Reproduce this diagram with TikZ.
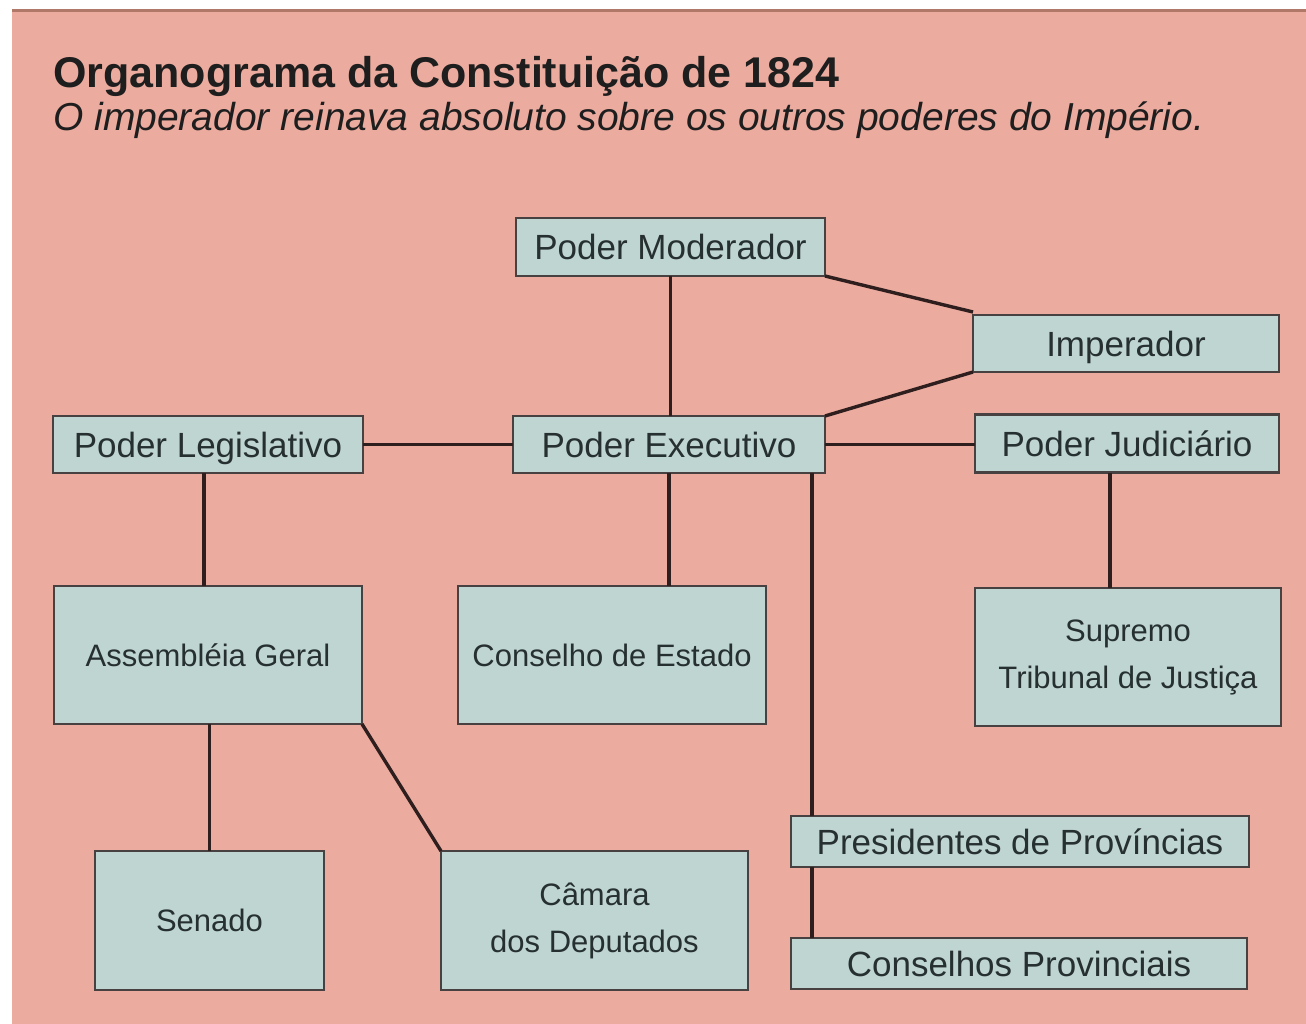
\documentclass[tikz,border=0pt]{standalone}
\usepackage{fontspec}
\setmainfont{Liberation Sans}
\definecolor{bgpink}{HTML}{ECAB9F}
\definecolor{boxfill}{HTML}{BFD5D1}
\definecolor{boxline}{HTML}{474141}
\definecolor{conn}{HTML}{2E1E1E}
\definecolor{txt}{HTML}{1E1E1E}
\definecolor{boxtxt}{HTML}{263030}
\definecolor{edge}{HTML}{B07868}
\begin{document}
\begin{tikzpicture}[x=1pt,y=-1pt,
  orgbox/.style={draw=boxline, line width=2.4pt, fill=boxfill, inner sep=0pt, outer sep=0pt,
    text=boxtxt, align=center, font=\fontsize{35}{42}\selectfont, text height=32pt, text depth=7pt},
  bigbox/.style={draw=boxline, line width=2.4pt, fill=boxfill, inner sep=0pt, outer sep=0pt,
    text=boxtxt, align=center, font=\fontsize{31}{47}\selectfont},
  link/.style={draw=conn, line width=3.4pt}]
\useasboundingbox (0,0) rectangle (1306,1024);
\fill[white] (0,0) rectangle (1306,1024);
\fill[bgpink] (12,10) rectangle (1306,1024);
\fill[edge] (12,9) rectangle (1306,12);
% titles
\node[anchor=base west, inner sep=0pt, text=txt, font=\fontsize{43}{50}\selectfont\bfseries] (title) at (53,88) {Organograma da Constitui\c{c}\~ao de 1824};
\node[anchor=base west, inner sep=0pt, text=txt, font=\fontsize{39}{46}\selectfont\itshape] (sub) at (53,131) {O imperador reinava absoluto sobre os outros poderes do Imp\'erio.};
% boxes
\node[orgbox, minimum width=309, minimum height=58] (mod) at (670.5,247) {Poder Moderador};
\node[orgbox, minimum width=306, minimum height=57] (imp) at (1126,343.5) {Imperador};
\node[orgbox, minimum width=310, minimum height=57] (leg) at (208,444.5) {Poder Legislativo};
\node[orgbox, minimum width=312, minimum height=57] (exe) at (669,444.5) {Poder Executivo};
\node[orgbox, minimum width=304, minimum height=58] (jud) at (1127,443.5) {Poder Judici\'ario};
\node[bigbox, minimum width=308, minimum height=138] (ass) at (208,655) {Assembl\'eia Geral};
\node[bigbox, minimum width=308, minimum height=138] (ce) at (612,655) {Conselho de Estado};
\node[bigbox, minimum width=306, minimum height=138] (stj) at (1128,657) {Supremo\\Tribunal de Justi\c{c}a};
\node[bigbox, minimum width=229, minimum height=139] (sen) at (209.5,920.5) {Senado};
\node[bigbox, minimum width=307, minimum height=139] (cam) at (594.5,920.5) {C\^amara\\dos Deputados};
\node[orgbox, minimum width=458, minimum height=51] (pres) at (1020,841.5) {Presidentes de Prov\'incias};
\node[orgbox, minimum width=456, minimum height=51] (cons) at (1019,963.5) {Conselhos Provinciais};
% helper coordinates
\coordinate (px) at (812,0);
\coordinate (jx) at (1110,0);
% connectors
\draw[link] (mod.south) -- (mod.south |- exe.north);
\draw[link] (mod.south east) -- ([yshift=3]imp.north west);
\draw[link] (imp.south west) -- (exe.north east);
\draw[link] (leg.east) -- (exe.west);
\draw[link] (exe.east) -- (exe.east -| jud.west);
\draw[link] (exe.south) -- (exe.south |- ce.north);
\draw[link] (exe.south -| px) -- (pres.north -| px);
\draw[link] (pres.south -| px) -- (cons.north -| px);
\draw[link] (jud.south -| jx) -- (stj.north -| jx);
\draw[link] ([xshift=-4]leg.south) -- ([xshift=-4]leg.south |- ass.north);
\draw[link] (ass.south -| sen.north) -- (sen.north);
\draw[link] (ass.south east) -- (cam.north west);
\end{tikzpicture}
\end{document}
